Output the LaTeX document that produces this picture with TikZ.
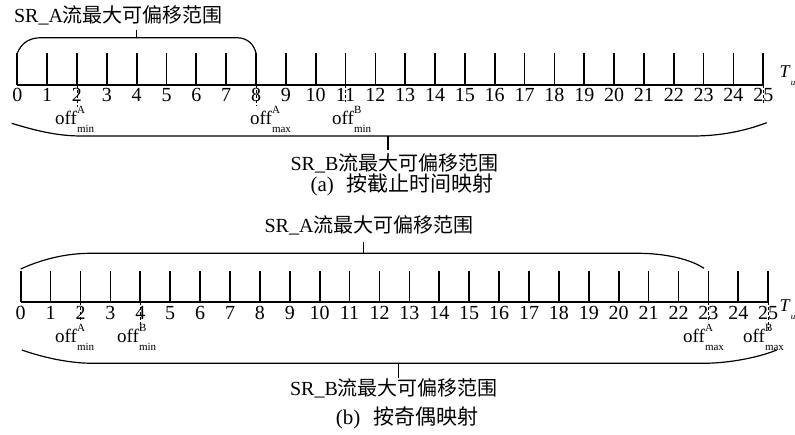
\documentclass[tikz,border=0pt]{standalone}
\usepackage{fontspec}
\setmainfont{Liberation Serif}
\newfontfamily\cjk{Noto Sans CJK SC}
\newcommand\offlab[2]{off\makebox[0pt][l]{\raisebox{0.55em}{\fontsize{11}{11}\selectfont #1}}\raisebox{-0.45em}{\fontsize{11}{11}\selectfont #2}}
\begin{document}
\begin{tikzpicture}[x=1pt,y=-1pt,
 axisline/.style={line width=1.7pt},
 tickline/.style={line width=1.7pt},
 brace/.style={line width=1.2pt},
 dashmark/.style={line width=0.8pt, dash pattern=on 2.5pt off 2.5pt},
 num/.style={font=\fontsize{20}{20}\selectfont, inner sep=0pt},
 lab/.style={font=\fontsize{20}{24}\selectfont, inner sep=0pt},
 tlab/.style={font=\fontsize{18}{20}\selectfont, inner sep=0pt, anchor=west},
 capt/.style={font=\fontsize{21}{24}\selectfont, inner sep=0pt},
 offnode/.style={font=\fontsize{19}{20}\selectfont, inner sep=0pt, anchor=base west}
]
\useasboundingbox (0,0) rectangle (795,434);

\foreach \i in {0,...,25} {
  \pgfmathsetmacro\xa{17.3+29.84*\i}
  \coordinate (a\i) at (\xa,85);
  \draw[tickline] (a\i) -- ++(0,-32);
  \node[num] (na\i) at (\xa,95) {\i};
  \pgfmathsetmacro\xb{20.7+29.9*\i}
  \coordinate (b\i) at (\xb,302.3);
  \draw[tickline] (b\i) -- ++(0,-31.6);
  \node[num] (nb\i) at (\xb,313.3) {\i};
}
\draw[axisline] (a0) -- (a25);
\draw[axisline] (b0) -- (b25);

% dashed markers
\draw[dashmark] (a2) -- ++(0,22);
\draw[dashmark] (a8) -- ++(0,21);
\draw[dashmark] (a11) -- ++(0,17);
\draw[dashmark] (a25) -- ++(0,19);
\draw[dashmark] (b2) -- ++(0,18);
\draw[dashmark] (b4) -- ++(0,30);
\draw[dashmark] (b23) -- ++(0,20);
\draw[dashmark] (b25) -- ++(0,28);

% offset labels
\node[offnode] (oa1) at (55,124) {\offlab{A}{min}};
\node[offnode] (oa2) at (250,124) {\offlab{A}{max}};
\node[offnode] (oa3) at (332,124) {\offlab{B}{min}};
\node[offnode] (ob1) at (55,342) {\offlab{A}{min}};
\node[offnode] (ob2) at (117,342) {\offlab{B}{min}};
\node[offnode] (ob3) at (683,342) {\offlab{A}{max}};
\node[offnode] (ob4) at (743,342) {\offlab{B}{max}};

% T_u
\node[tlab] (ta) at (779.5,76) {\textit{T}\raisebox{-0.45em}{\fontsize{9}{9}\selectfont\textit{u}}};
\node[tlab] (tb) at (779.5,310) {\textit{T}\raisebox{-0.45em}{\fontsize{9}{9}\selectfont\textit{u}}};

% panel (a) braces
\draw[brace] (a0) ++(0,-32) .. controls (22,42) and (30,37.7) .. (42,37.7) -- (236.7,37.7) .. controls (248,37.7) and (254,45) .. (256,53);
\coordinate (bam) at (136.7,37.7);
\draw[brace] (bam) -- ++(0,-8);
\node[lab] (la) at (118.5,15) {SR\_A{\cjk 流最大可偏移范围}};

\draw[brace] (11.7,123.3) .. controls (40,132) and (60,136) .. (81.7,136) -- (693,136) .. controls (720,136) and (745,131) .. (766.7,122.7);
\coordinate (bbm) at (388,136);
\draw[brace] (bbm) -- ++(0,14);
\node[lab] (lb) at (394.5,163) {SR\_B{\cjk 流最大可偏移范围}};
\node[capt] (ca) at (402,185) {(a)\hspace{0.6em}{\cjk 按截止时间映射}};

% panel (b) braces
\draw[brace] (20.7,269) .. controls (40,260) and (65,253.3) .. (90,253.3) -- (638,253.3) .. controls (665,253.3) and (690,259) .. (704,268.3);
\coordinate (cam) at (363.3,253.3);
\draw[brace] (cam) -- ++(0,-11.6);
\node[lab] (lc) at (369,225) {SR\_A{\cjk 流最大可偏移范围}};

\draw[brace] (21.7,350) .. controls (45,358) and (70,363.3) .. (93.3,363.3) -- (703,363.3) .. controls (730,363.3) and (760,357) .. (776.7,350);
\coordinate (cbm) at (398.3,363.3);
\draw[brace] (cbm) -- ++(0,14.7);
\node[lab] (ld) at (394,388) {SR\_B{\cjk 流最大可偏移范围}};
\node[capt] (cb) at (407,418) {(b)\hspace{0.6em}{\cjk 按奇偶映射}};
\end{tikzpicture}
\end{document}
